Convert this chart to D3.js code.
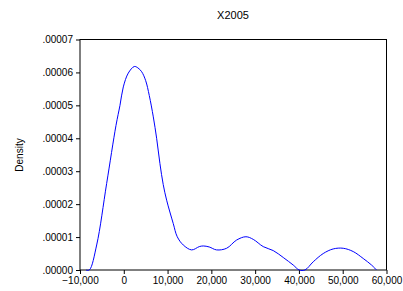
<!DOCTYPE html>
<html><head><meta charset="utf-8">
<script src="https://cdn.jsdelivr.net/npm/d3@7"></script>
<style>html,body{margin:0;padding:0;background:#fff;}svg{display:block;}</style>
</head><body>
<svg id="c" width="403" height="291"></svg>
<script>
const title = "X2005";
const yLabel = "Density";
const xValues = [-8630,-7870,-6190,-3910,-1780,-870,-110,1030,2400,3200,4090,5000,5820,6740,7500,8260,9000,9790,11300,12210,13580,15500,17240,18150,19500,21200,23490,25770,27900,29570,31850,34130,36420,38700,40070,41370,43270,45550,47830,50120,52400,54680,56590,57730];
const densities = [0,0,0.0000076,0.0000263,0.0000439,0.0000500,0.0000556,0.0000598,0.0000618,0.0000614,0.0000602,0.0000575,0.0000530,0.0000465,0.0000400,0.0000323,0.0000260,0.0000212,0.0000141,0.0000101,0.0000076,0.0000061,0.0000071,0.0000073,0.0000070,0.0000061,0.0000066,0.0000091,0.0000101,0.0000093,0.0000071,0.0000059,0.0000038,0.0000015,0,0,0.0000025,0.0000050,0.0000064,0.0000066,0.0000056,0.0000035,0.0000015,0];
const xTicks = [-10000,0,10000,20000,30000,40000,50000,60000];
const yTicks = [0,0.00001,0.00002,0.00003,0.00004,0.00005,0.00006,0.00007];

const svg = d3.select("#c");
const L=80, R=386.5, T=39.5, B=270;
const x = d3.scaleLinear().domain([-10000,60000]).range([L,R]);
const y = d3.scaleLinear().domain([0,0.00007]).range([B,T]);
const font = "Arial, 'Liberation Sans', sans-serif";

const xAxis = d3.axisBottom(x).tickValues(xTicks).tickSize(4).tickSizeOuter(0).tickPadding(3).tickFormat(d3.format(",d"));
const yAxis = d3.axisLeft(y).tickValues(yTicks).tickSize(4).tickSizeOuter(0).tickPadding(3).tickFormat(d => d3.format(".5f")(d).replace(/^0/,""));

const gx = svg.append("g").attr("transform",`translate(0,${B})`).call(xAxis);
const gy = svg.append("g").attr("transform",`translate(${L},0)`).call(yAxis);
[gx,gy].forEach(g=>{
  g.select(".domain").remove();
  g.selectAll("line").attr("stroke","#000");
  g.selectAll("text").attr("font-family",font).attr("font-size","10px").attr("fill","#000");
});

svg.append("rect").attr("x",L).attr("y",T).attr("width",R-L).attr("height",B-T)
  .attr("fill","none").attr("stroke","#000").attr("stroke-width",1);

const line = d3.line().x((d,i)=>x(xValues[i])).y(d=>Math.min(B, y(d))).curve(d3.curveCatmullRom.alpha(0.5));
svg.append("path").datum(densities).attr("d",line).attr("fill","none").attr("stroke","#0000ff").attr("stroke-width",1);

svg.append("text").attr("x",233).attr("y",19).attr("text-anchor","middle")
  .attr("font-family",font).attr("font-size","11px").text(title);
svg.append("text").attr("transform","translate(23,155) rotate(-90)").attr("text-anchor","middle")
  .attr("font-family",font).attr("font-size","10px").text(yLabel);
</script>
</body></html>
